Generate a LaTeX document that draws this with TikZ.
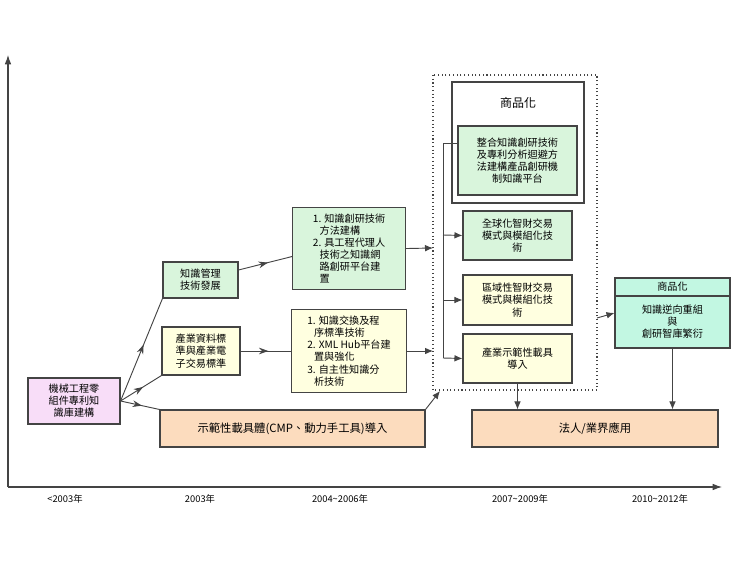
\documentclass[tikz,border=0pt]{standalone}
\usepackage{fontspec}
\setmainfont{Noto Sans CJK TC}
\usetikzlibrary{arrows.meta,decorations.markings}
\definecolor{pk}{HTML}{F8DDF8}
\definecolor{gr}{HTML}{D9F5DC}
\definecolor{yl}{HTML}{FFFFE0}
\definecolor{or}{HTML}{FCDCBE}
\definecolor{mt}{HTML}{C2F7E2}
\definecolor{ln}{HTML}{444444}
\begin{document}
\begin{tikzpicture}[x=0.75pt,y=-0.75pt,font=\fontsize{7.6}{9.1}\selectfont,
 bx/.style={draw=ln,line width=0.8pt,align=center,inner sep=1pt},
 sz/.style 2 args={minimum width=#1*0.75pt,minimum height=#2*0.75pt},
 arr/.style={ln,line width=0.7pt,-{Latex[length=6pt,width=5pt]}},
 mid/.style={ln,line width=0.7pt,decoration={markings,mark=at position 0.55 with {\arrow{Stealth[length=7pt,width=5pt]}}},postaction=decorate}]
\useasboundingbox (0,0) rectangle (743,567);
% axes
\draw[ln,line width=0.8pt,-{Latex[length=7pt,width=5pt]}] (8,487) -- (8,55);
\draw[ln,line width=0.8pt,-{Latex[length=7pt,width=5pt]}] (8,487) -- (722,487);
\foreach \x/\t in {65/<2003年,200/2003年,340/2004\textasciitilde 2006年,520/2007\textasciitilde 2009年,660/2010\textasciitilde 2012年}
  \node[font=\fontsize{7}{8}\selectfont] (yr\x) at (\x,499) {\t};
% boxes
\node[bx,fill=pk,sz={92}{46}] (pink) at (74,401) {機械工程零\\組件專利知\\識庫建構};
\node[bx,fill=gr,sz={75}{36}] (km) at (200.5,280) {知識管理\\技術發展};
\node[bx,fill=yl,sz={78}{48}] (ind) at (201,351) {產業資料標\\準與產業電\\子交易標準};
\node[bx,fill=or,sz={265}{37},font=\fontsize{8.5}{10}\selectfont] (demo) at (292.5,428.5) {示範性載具體(CMP、動力手工具)導入};
\node[bx,fill=gr,sz={113}{82},align=left,anchor=north west,inner sep=2pt] (gl) at (292,207) {1. 知識創研技術\\\ \ \ 方法建構\\2. 具工程代理人\\\ \ \ 技術之知識網\\\ \ \ 路創研平台建\\\ \ \ 置};
\node[bx,fill=yl,sz={115}{83},align=left,anchor=north west,inner sep=2pt] (yl) at (291,309) {1. 知識交換及程\\\ \ \ 序標準技術\\2. XML Hub平台建\\\ \ \ 置與強化\\3. 自主性知識分\\\ \ \ 析技術};
\draw[ln,dotted,line width=0.8pt] (433,75) rectangle (597,390);
\node[bx,fill=white,sz={132}{121}] (com) at (518,142.5) {};
\node (comt) at (518,103) {\fontsize{9}{10}\selectfont 商品化};
\node[bx,fill=gr,sz={119}{69}] (integ) at (517.5,160.5) {整合知識創研技術\\及專利分析迴避方\\法建構產品創研機\\制知識平台};
\node[bx,fill=gr,sz={109}{49}] (glob) at (517.5,235.5) {全球化智財交易\\模式與模組化技\\術};
\node[bx,fill=yl,sz={109}{50}] (reg) at (517.5,300) {區域性智財交易\\模式與模組化技\\術};
\node[bx,fill=yl,sz={109}{49}] (sd) at (517.5,358.5) {產業示範性載具\\導入};
\node[bx,fill=mt,sz={115}{70}] (rb) at (672.5,313) {};
\draw[ln,line width=0.8pt] (615,296) -- (730,296);
\node (rbh) at (672.5,287) {商品化};
\node[align=center] (rbt) at (672.5,322) {知識逆向重組\\與\\創研智庫繁衍};
\node[bx,fill=or,sz={246}{37},font=\fontsize{8.5}{10}\selectfont] (law) at (595,428.5) {法人/業界應用};
% connectors
\draw[mid] (pink.east) -- (km.south west);
\draw[mid] (pink.east) -- (ind.south west);
\draw[mid] (pink.east) -- (demo.north west);
\draw[mid] ([yshift=7.5pt]km.east) -- ([yshift=-6pt]gl.west);
\draw[mid] (ind.east) -- (ind.east -| yl.west);
\coordinate (b1) at (443,143);
\coordinate (b2) at (443,358);
\draw[ln,line width=0.7pt] (integ.west |- b1) -- (b1) -- (b2);
\draw[arr] (443,235) -- (glob.west);
\draw[arr] (443,300) -- (reg.west);
\draw[arr] (b2) -- (sd.west);
\draw[arr] (gl.east) -- (433,248);
\draw[arr] (ind.east -| yl.east) -- (433,351);
\draw[arr] (597,318) -- (rb.west);
\draw[arr] (sd.south) -- (sd.south |- law.north);
\draw[arr] (rb.south) -- (rb.south |- law.north);
\draw[arr] (demo.north east) -- (440,391);
\end{tikzpicture}
\end{document}
